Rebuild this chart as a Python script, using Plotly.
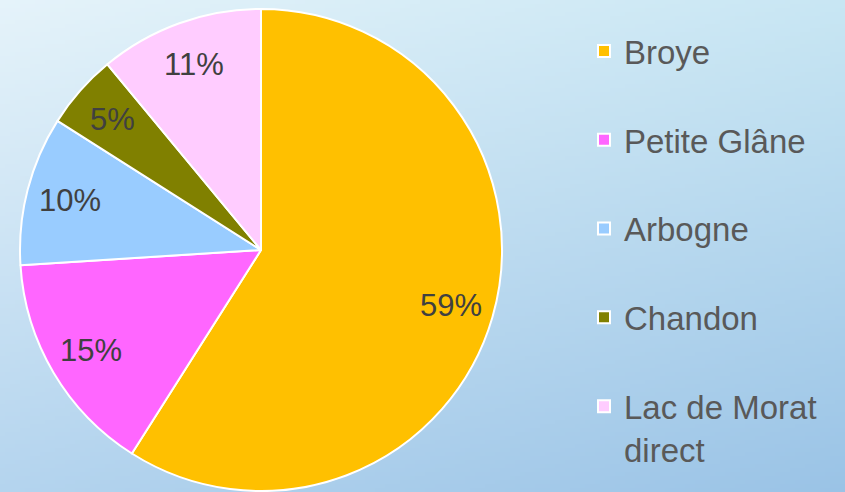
import numpy as np
import plotly.graph_objects as go

labels = ["Broye", "Petite Glâne", "Arbogne", "Chandon", "Lac de Morat<br>direct"]
values = [59, 15, 10, 5, 11]
colors = ["#FFC000", "#FF66FF", "#99CCFF", "#808000", "#FFCCFF"]

W, H = 845, 492
CX, CY, R = 261, 250, 241  # pie centre / radius in pixels

# background gradient (style only)
nx, ny = 169, 123
tl = np.array([229, 243, 250.0]); tr = np.array([200, 230, 243.0])
bl = np.array([180, 212, 238.0]); br = np.array([154, 195, 230.0])
u = np.linspace(0, 1, nx)[None, :, None]
v = np.linspace(0, 1, ny)[:, None, None]
img = (tl * (1 - u) * (1 - v) + tr * u * (1 - v) + bl * (1 - u) * v + br * u * v)
img = np.round(img).astype(np.uint8)

leg_labels = [l if "<br>" in l else l + "<br>&nbsp;" for l in labels]

fig = go.Figure()
fig.add_trace(go.Image(z=img, x0=2.5, y0=2, dx=W / nx, dy=H / ny, hoverinfo="skip"))
fig.add_trace(go.Pie(
    labels=leg_labels, values=values, sort=False, direction="clockwise", rotation=0,
    marker=dict(colors=colors, line=dict(color="white", width=2)),
    textinfo="none",
    domain=dict(x=[(CX - R) / W, (CX + R) / W], y=[1 - (CY + R) / H, 1 - (CY - R) / H]),
    showlegend=True,
))

# percentage labels placed along each slice's mid-angle (data driven)
total = sum(values)
cum = np.cumsum([0] + values[:-1])
for v_, c in zip(values, cum):
    frac = (c + v_ / 2) / total
    ang = 2 * np.pi * frac
    rr = 0.82 * R
    px = CX + rr * np.sin(ang)
    py = CY - rr * np.cos(ang)
    fig.add_annotation(
        x=px / W, y=1 - py / H, xref="paper", yref="paper",
        text=f"{round(100 * v_ / total)}%", showarrow=False,
        xanchor="center", yanchor="middle",
        font=dict(size=31, color="#404040", family="Liberation Sans, Arial"),
    )

fig.update_layout(
    width=W, height=H, margin=dict(l=0, r=0, t=0, b=0),
    paper_bgcolor="#dcecf6", plot_bgcolor="rgba(0,0,0,0)",
    xaxis=dict(visible=False, range=[0, W], domain=[0, 1], fixedrange=True),
    yaxis=dict(visible=False, range=[H, 0], domain=[0, 1], fixedrange=True),
    legend=dict(x=584 / W, y=1 - 23 / H, xanchor="left", yanchor="top",
                valign="top", bgcolor="rgba(0,0,0,0)",
                font=dict(size=33, color="#595959", family="Liberation Sans, Arial")),
    font=dict(family="Liberation Sans, Arial"),
)
fig.write_html("out.html", config={"displayModeBar": False},
               post_script="document.body.style.margin='0';document.body.style.overflow='hidden';")
